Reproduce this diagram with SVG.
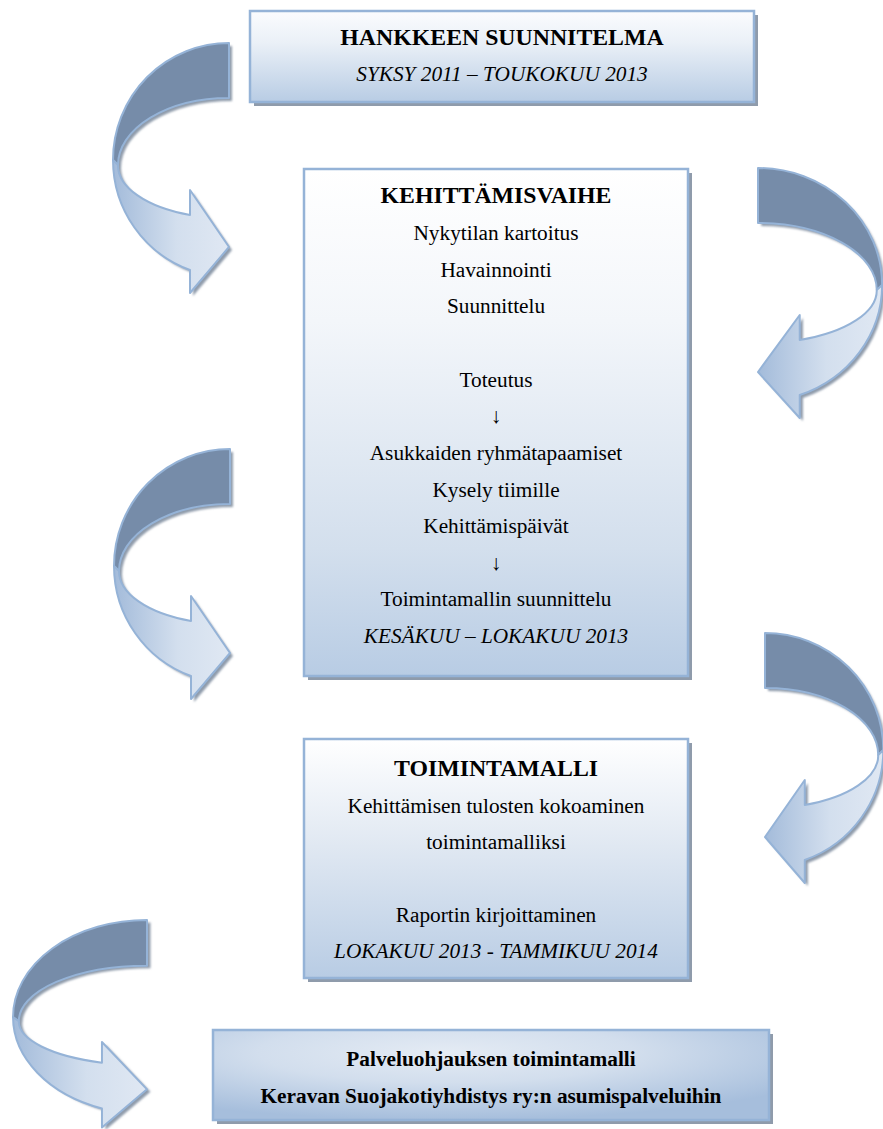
<svg xmlns="http://www.w3.org/2000/svg" width="883" height="1129" viewBox="0 0 883 1129">
<defs>
<linearGradient id="gTop" x1="0" y1="0" x2="0" y2="1">
<stop offset="0" stop-color="#fbfcfe"/>
<stop offset="0.35" stop-color="#eaf0f7"/>
<stop offset="1" stop-color="#b8cce4"/>
</linearGradient>
<linearGradient id="gMid" x1="0" y1="0" x2="0" y2="1">
<stop offset="0" stop-color="#ffffff"/>
<stop offset="0.3" stop-color="#f3f6fa"/>
<stop offset="0.75" stop-color="#d3dfed"/>
<stop offset="1" stop-color="#b8cce4"/>
</linearGradient>
<linearGradient id="gToim" x1="0" y1="0" x2="0" y2="1">
<stop offset="0" stop-color="#ffffff"/>
<stop offset="0.45" stop-color="#e0e8f2"/>
<stop offset="1" stop-color="#b8cce4"/>
</linearGradient>
<radialGradient id="gBot" cx="0.42" cy="0.25" r="0.75">
<stop offset="0" stop-color="#e4ebf4"/>
<stop offset="0.45" stop-color="#d2deed"/>
<stop offset="1" stop-color="#a6bedc"/>
</radialGradient>
<linearGradient id="arrR" x1="0" y1="0" x2="1" y2="0">
<stop offset="0" stop-color="#a3bbda"/>
<stop offset="0.55" stop-color="#d3dfee"/>
<stop offset="1" stop-color="#e0e8f3"/>
</linearGradient>
<linearGradient id="arrL" x1="0" y1="0" x2="1" y2="0">
<stop offset="0" stop-color="#e0e8f3"/>
<stop offset="0.45" stop-color="#d3dfee"/>
<stop offset="1" stop-color="#a3bbda"/>
</linearGradient>
<filter id="soft" x="-10%" y="-10%" width="120%" height="120%">
<feGaussianBlur stdDeviation="1"/>
</filter>
<path id="arrowOutline" d="M0,0 A116,117 0 0 0 -39,227 L-39,250 L0,204 L-39,147 L-39,172 A111,53 0 0 1 -111,122 A111,67 0 0 1 0,55 Z"/>
<style>
.box{stroke:#95b3d7;stroke-width:2.5}
.bshadow{fill:#8f9bab}
.ashadow{fill:#8f9bab;filter:url(#soft)}
.dark{fill:#768ca9;stroke:#95b3d7;stroke-width:2;stroke-linejoin:round;vector-effect:non-scaling-stroke}
.lr{fill:url(#arrR);stroke:#95b3d7;stroke-width:2;stroke-linejoin:round;vector-effect:non-scaling-stroke}
.ll{fill:url(#arrL);stroke:#95b3d7;stroke-width:2;stroke-linejoin:round;vector-effect:non-scaling-stroke}
text{font-family:"Liberation Serif","Times New Roman",serif;font-size:21.3px;text-anchor:middle;fill:#000}
.h{font-weight:bold;font-size:23.8px}
.b{font-weight:bold}
.i{font-style:italic}
</style>
</defs>

<g id="connectors">
<g id="arrow1" transform="translate(229,43)">
<use href="#arrowOutline" class="ashadow" transform="translate(3,3)"/>
<path class="dark" d="M0,0 A116,117 0 0 0 -116,117 L-111,122 A111,67 0 0 1 0,55 Z"/>
<path class="lr" d="M-116,117 A116,117 0 0 0 -39,227 L-39,250 L0,204 L-39,147 L-39,172 A111,53 0 0 1 -111,122 Z"/>
</g>
<g id="arrow2" transform="translate(758,168) scale(-1.07,1)">
<use href="#arrowOutline" class="ashadow" transform="translate(-3,3)"/>
<path class="dark" d="M0,0 A116,117 0 0 0 -116,117 L-111,122 A111,67 0 0 1 0,55 Z"/>
<path class="ll" d="M-116,117 A116,117 0 0 0 -39,227 L-39,250 L0,204 L-39,147 L-39,172 A111,53 0 0 1 -111,122 Z"/>
</g>
<g id="arrow3" transform="translate(230,449)">
<use href="#arrowOutline" class="ashadow" transform="translate(3,3)"/>
<path class="dark" d="M0,0 A116,117 0 0 0 -116,117 L-111,122 A111,67 0 0 1 0,55 Z"/>
<path class="lr" d="M-116,117 A116,117 0 0 0 -39,227 L-39,250 L0,204 L-39,147 L-39,172 A111,53 0 0 1 -111,122 Z"/>
</g>
<g id="arrow4" transform="translate(765,633) scale(-1.02,1)">
<use href="#arrowOutline" class="ashadow" transform="translate(-3,3)"/>
<path class="dark" d="M0,0 A116,117 0 0 0 -116,117 L-111,122 A111,67 0 0 1 0,55 Z"/>
<path class="ll" d="M-116,117 A116,117 0 0 0 -39,227 L-39,250 L0,204 L-39,147 L-39,172 A111,53 0 0 1 -111,122 Z"/>
</g>
<g id="arrow5" transform="translate(147,920) scale(1.155,0.83)">
<use href="#arrowOutline" class="ashadow" transform="translate(3,3)"/>
<path class="dark" d="M0,0 A116,117 0 0 0 -116,117 L-111,122 A111,67 0 0 1 0,55 Z"/>
<path class="lr" d="M-116,117 A116,117 0 0 0 -39,227 L-39,250 L0,204 L-39,147 L-39,172 A111,53 0 0 1 -111,122 Z"/>
</g>
</g>

<g id="hankkeen-suunnitelma">
<rect class="bshadow" x="254" y="15" width="504" height="91"/>
<rect class="box" x="250" y="11" width="504" height="91" fill="url(#gTop)"/>
<text class="h" x="502" y="45">HANKKEEN SUUNNITELMA</text>
<text class="i" x="502" y="81">SYKSY 2011 – TOUKOKUU 2013</text>
</g>

<g id="kehittamisvaihe">
<rect class="bshadow" x="308" y="173" width="384" height="507"/>
<rect class="box" x="304" y="169" width="384" height="507" fill="url(#gMid)"/>
<text class="h" x="496" y="203">KEHITTÄMISVAIHE</text>
<text x="496" y="240">Nykytilan kartoitus</text>
<text x="496" y="276.6">Havainnointi</text>
<text x="496" y="313.3">Suunnittelu</text>
<text x="496" y="386.5">Toteutus</text>
<text x="496" y="423.2">↓</text>
<text x="496" y="459.8">Asukkaiden ryhmätapaamiset</text>
<text x="496" y="496.5">Kysely tiimille</text>
<text x="496" y="533.1">Kehittämispäivät</text>
<text x="496" y="569.7">↓</text>
<text x="496" y="606.4">Toimintamallin suunnittelu</text>
<text class="i" x="496" y="643">KESÄKUU – LOKAKUU 2013</text>
</g>

<g id="toimintamalli">
<rect class="bshadow" x="308" y="743" width="384" height="239"/>
<rect class="box" x="304" y="739" width="384" height="239" fill="url(#gToim)"/>
<text class="h" x="496" y="776">TOIMINTAMALLI</text>
<text x="496" y="812.5">Kehittämisen tulosten kokoaminen</text>
<text x="496" y="849">toimintamalliksi</text>
<text x="496" y="922">Raportin kirjoittaminen</text>
<text class="i" x="496" y="958">LOKAKUU 2013 - TAMMIKUU 2014</text>
</g>

<g id="palveluohjauksen-toimintamalli">
<rect class="bshadow" x="217" y="1034" width="556" height="90"/>
<rect class="box" x="213" y="1030" width="556" height="90" fill="url(#gBot)"/>
<text class="b" x="491" y="1066">Palveluohjauksen toimintamalli</text>
<text class="b" x="491" y="1103">Keravan Suojakotiyhdistys ry:n asumispalveluihin</text>
</g>
</svg>
